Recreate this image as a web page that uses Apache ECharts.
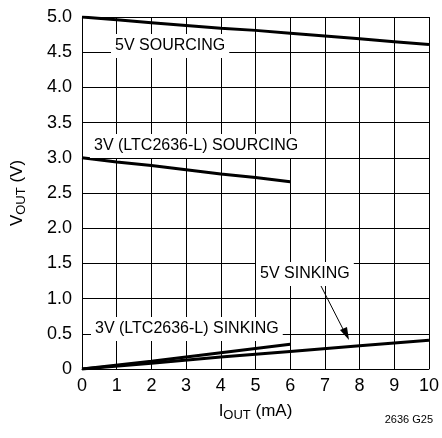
<!DOCTYPE html>
<html>
<head>
<meta charset="utf-8">
<script src="https://cdn.jsdelivr.net/npm/echarts@6/dist/echarts.min.js"></script>
<style>
  html, body { margin: 0; padding: 0; background: #fff; }
  #chart { width: 442px; height: 438px; }
</style>
</head>
<body>
<div id="chart"></div>
<script>
// output current (mA) for each curve
var iSource5 = [0, 1, 2, 3, 4, 5, 6, 7, 8, 9, 10];
var vSource5 = [5.0, 4.96, 4.92, 4.88, 4.84, 4.81, 4.77, 4.73, 4.69, 4.65, 4.61];
var iSource3 = [0, 1, 2, 3, 4, 5, 6];
var vSource3 = [3.0, 2.94, 2.89, 2.83, 2.77, 2.72, 2.66];
var iSink5 = [0, 2, 4, 6, 8, 10];
var vSink5 = [0, 0.08, 0.17, 0.25, 0.33, 0.41];
var iSink3 = [0, 2, 4, 6];
var vSink3 = [0, 0.11, 0.23, 0.35];

var font = '"Liberation Sans", Arial, sans-serif';

function pairs (xs, ys) {
    var out = [];
    for (var i = 0; i < xs.length; i++) {
        out.push([xs[i], ys[i]]);
    }
    return out;
}

function curve (name, xs, ys) {
    return {
        name: name,
        type: 'line',
        data: pairs(xs, ys),
        symbol: 'none',
        z: 5,
        lineStyle: { color: '#000', width: 3 }
    };
}

// white boxed annotation, breaks the grid lines behind it
function note (text, x, y) {
    return {
        type: 'text',
        left: x,
        top: y,
        z: 50,
        style: {
            text: text,
            font: '16px ' + font,
            fill: '#000',
            backgroundColor: '#fff',
            padding: [4, 4, 4, 4]
        }
    };
}

var chart = echarts.init(document.getElementById('chart'));
var option = {
    backgroundColor: '#fff',
    animation: false,
    grid: { left: 82, right: 9, top: 17, bottom: 69 },
    xAxis: {
        type: 'value',
        min: 0,
        max: 10,
        interval: 1,
        name: '{a|I}{s|OUT}{a| (mA)}',
        nameLocation: 'middle',
        nameGap: 32,
        nameTextStyle: {
            rich: {
                a: { fontFamily: font, fontSize: 17, color: '#000' },
                s: { fontFamily: font, fontSize: 13, color: '#000', verticalAlign: 'bottom', padding: [8, 0, 0, 0] }
            }
        },
        axisLine: { show: true, lineStyle: { color: '#000', width: 1 } },
        axisTick: { show: false },
        axisLabel: { color: '#000', fontFamily: font, fontSize: 18, margin: 8 },
        splitLine: { show: true, lineStyle: { color: '#000', width: 1 } }
    },
    yAxis: {
        type: 'value',
        min: 0,
        max: 5,
        interval: 0.5,
        name: '{a|V}{s|OUT}{a| (V)}',
        nameLocation: 'middle',
        nameGap: 54,
        nameTextStyle: {
            rich: {
                a: { fontFamily: font, fontSize: 17, color: '#000' },
                s: { fontFamily: font, fontSize: 13, color: '#000', verticalAlign: 'bottom', padding: [8, 0, 0, 0] }
            }
        },
        axisLine: { show: true, lineStyle: { color: '#000', width: 1 } },
        axisTick: { show: false },
        axisLabel: {
            color: '#000',
            fontFamily: font,
            fontSize: 18,
            margin: 10,
            formatter: function (v) { return v === 0 ? '0' : v.toFixed(1); }
        },
        splitLine: { show: true, lineStyle: { color: '#000', width: 1 } }
    },
    graphic: [
        note('5V SOURCING', 111, 34),
        note('3V (LTC2636-L) SOURCING', 90, 134),
        note('5V SINKING', 256, 262),
        note('3V (LTC2636-L) SINKING', 91, 317),
        {
            type: 'line',
            z: 60,
            shape: { x1: 321, y1: 286, x2: 345, y2: 333 },
            style: { stroke: '#000', lineWidth: 1 }
        },
        {
            type: 'polygon',
            z: 60,
            shape: { points: [[349, 340], [340, 330], [347, 327]] },
            style: { fill: '#000' }
        },
        {
            type: 'text',
            right: 9,
            top: 414,
            style: { text: '2636 G25', font: '11px ' + font, fill: '#000' }
        }
    ],
    series: [
        curve('5V SOURCING', iSource5, vSource5),
        curve('3V SOURCING', iSource3, vSource3),
        curve('5V SINKING', iSink5, vSink5),
        curve('3V SINKING', iSink3, vSink3)
    ]
};
chart.setOption(option);
</script>
</body>
</html>
